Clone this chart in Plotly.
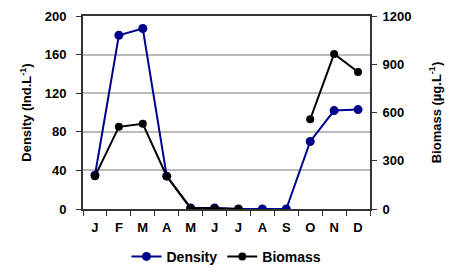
import plotly.graph_objects as go

months = ["J", "F", "M", "A", "M ", "J ", "J  ", "A ", "S", "O", "N", "D"]
month_labels = ["J", "F", "M", "A", "M", "J", "J", "A", "S", "O", "N", "D"]
density = [35, 180, 187, 34, 1, 1, 0, 0, 0, 70, 102, 103]
biomass = [203, 511, 530, 204, 5, 5, 0, None, None, 558, 964, 852]
density_ticks = [0, 40, 80, 120, 160, 200]
biomass_ticks = [0, 300, 600, 900, 1200]

FF = "Liberation Sans, Arial"
tickfont = dict(family=FF, size=13, color="black")
titlefont = dict(family=FF, size=13, color="black")

fig = go.Figure()
fig.add_trace(go.Scatter(x=months, y=density, name="<b>Density</b>", mode="lines+markers",
                         line=dict(color="#00008B", width=2), marker=dict(size=9, color="#00008B"),
                         yaxis="y"))
fig.add_trace(go.Scatter(x=months, y=biomass, name="<b>Biomass</b>", mode="lines+markers",
                         line=dict(color="black", width=2), marker=dict(size=8, color="black"),
                         yaxis="y2", connectgaps=False))

# page body has an 8px margin, so offsets compensate for it
fig.update_layout(
    width=463, height=274,
    margin=dict(l=75, r=101, t=8, b=73, autoexpand=False),
    paper_bgcolor="white", plot_bgcolor="white",
    font=dict(family=FF, size=12, color="black"),
    showlegend=True,
    legend=dict(orientation="h", x=0.5, xanchor="center", yref="container", y=0.092, yanchor="middle",
                font=dict(family=FF, size=14, color="black"), itemwidth=30),
    xaxis=dict(type="category", tickmode="array", tickvals=months,
               ticktext=["<b>%s</b>" % m for m in month_labels],
               tickson="boundaries", ticks="outside", ticklen=5, tickcolor="#333",
               showline=True, linecolor="#333", linewidth=2, mirror=True,
               showgrid=False, tickfont=tickfont, range=[-0.5, 11.5], automargin=False,
               ticklabelstandoff=5),
    yaxis=dict(range=[0, 200], tickvals=density_ticks,
               ticktext=["<b>%d</b>" % v for v in density_ticks],
               ticks="outside", ticklen=5, ticklabelstandoff=7,
               tickcolor="#333", showline=True, linecolor="#333", linewidth=2,
               showgrid=True, gridcolor="#BBBBBB", gridwidth=1.5, zeroline=False,
               title=dict(text="<b>Density (Ind.L<sup>-1</sup>)</b>", standoff=10, font=titlefont),
               tickfont=tickfont, automargin=False),
    yaxis2=dict(range=[0, 1200], tickvals=biomass_ticks,
                ticktext=["<b>%d</b>" % v for v in biomass_ticks],
                overlaying="y", side="right",
                ticks="outside", ticklen=5, ticklabelstandoff=3,
                tickcolor="#333", showline=True, linecolor="#333",
                linewidth=2, showgrid=False, zeroline=False,
                title=dict(text="<b>Biomass (µg.L<sup>-1</sup>)</b>", standoff=21, font=titlefont),
                tickfont=tickfont, automargin=False),
)

fig.write_html("out.html")
